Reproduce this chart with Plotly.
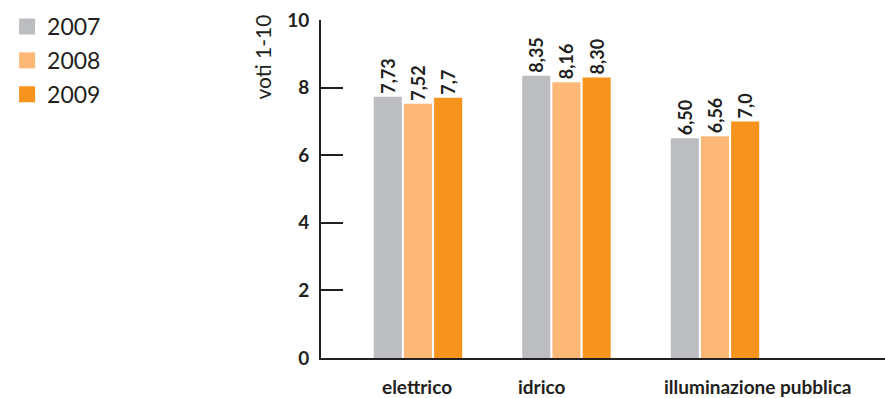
import plotly.graph_objects as go

# Satisfaction scores (scale 1-10) per public service, by year
categories = ["elettrico", "idrico", "illuminazione pubblica"]
years = ["2007", "2008", "2009"]
scores_2007 = ["7,73", "8,35", "6,50"]
scores_2008 = ["7,52", "8,16", "6,56"]
scores_2009 = ["7,7", "8,30", "7,0"]
y_ticks = [0, 2, 4, 6, 8, 10]

colors = ["#bcbdc0", "#fdb877", "#f7941e"]
ink = "#231f20"
font_bold = "Lato, sans-serif"
font_reg = "Lato, sans-serif"

x_pos = list(range(len(categories)))

fig = go.Figure()
for year, labels, color in zip(years, [scores_2007, scores_2008, scores_2009], colors):
    values = [float(s.replace(",", ".")) for s in labels]
    fig.add_trace(go.Bar(
        x=x_pos, y=values, name=year, legendgroup=year, showlegend=False,
        marker=dict(color=color, line=dict(width=0)),
        text=labels, textposition="outside", textangle=-90,
        constraintext="none",
        textfont=dict(family=font_bold, size=18, color=ink, weight="bold"),
        cliponaxis=False,
    ))
    # legend swatch: larger square than the default bar icon
    fig.add_trace(go.Scatter(
        x=[None], y=[None], mode="markers", name=year, legendgroup=year,
        marker=dict(symbol="square", size=16, color=color),
        hoverinfo="skip",
    ))

# category labels under the axis, left-aligned near each group
label_shift = [-0.256, -0.343, -0.357]
for i, (cat, sh) in enumerate(zip(categories, label_shift)):
    fig.add_annotation(
        x=i + sh, y=0, xref="x", yref="y", yshift=-28,
        text=cat, showarrow=False, xanchor="left", yanchor="middle",
        font=dict(family=font_bold, size=19, color=ink, weight="bold"),
    )

# y-axis caption
fig.add_annotation(
    xref="paper", yref="paper", x=(261.5 - 321) / 564, y=1 - (57 - 20) / 338,
    xanchor="center", yanchor="middle", showarrow=False,
    text="voti 1-10", textangle=-90,
    font=dict(family=font_reg, size=21, color=ink),
)

fig.update_layout(
    width=885, height=398,
    margin=dict(l=321, r=0, t=20, b=40),
    paper_bgcolor="white", plot_bgcolor="white",
    barmode="group", bargap=0.39, bargroupgap=0.07,
    showlegend=True,
    legend=dict(
        xref="container", yref="container", x=0.008, y=0.9874,
        xanchor="left", yanchor="top",
        font=dict(family=font_reg, size=23, color=ink),
        traceorder="grouped", tracegroupgap=1, itemclick=False,
    ),
    xaxis=dict(
        range=[-0.653, 3.145], showgrid=False, zeroline=False,
        showticklabels=False, ticks="",
        showline=True, linecolor=ink, linewidth=2,
    ),
    yaxis=dict(
        range=[0, 10], tickvals=y_ticks, showgrid=False, zeroline=False,
        ticks="inside", ticklen=22, tickwidth=2, tickcolor=ink,
        showline=True, linecolor=ink, linewidth=2,
        tickfont=dict(family=font_bold, size=19, color=ink, weight="bold"),
        ticklabelstandoff=6,
    ),
)

fig.write_html("out.html")
